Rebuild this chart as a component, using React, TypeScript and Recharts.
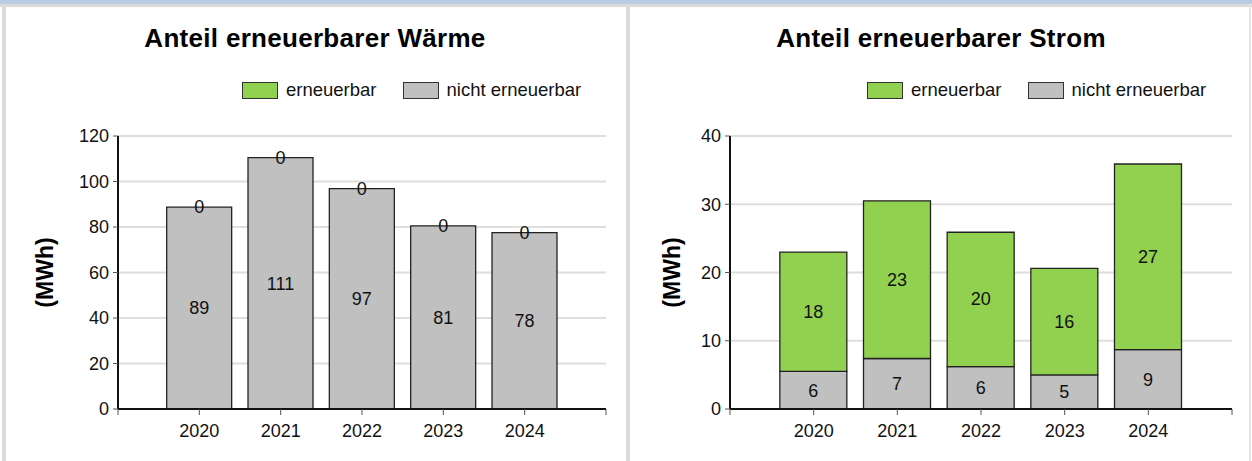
import { Bar, BarChart, CartesianGrid, LabelList, XAxis, YAxis } from "recharts"

const years = ["2020", "2021", "2022", "2023", "2024"]

const waermeErneuerbar = [0, 0, 0, 0, 0]
const waermeNichtErneuerbar = [88.7, 110.5, 96.9, 80.5, 77.5]
const waermeTicks = [0, 20, 40, 60, 80, 100, 120]

const stromErneuerbar = [17.5, 23.1, 19.7, 15.6, 27.2]
const stromNichtErneuerbar = [5.5, 7.4, 6.2, 5.0, 8.7]
const stromTicks = [0, 10, 20, 30, 40]

const GREEN = "#92d050"
const GREY = "#c0c0c0"
const FONT = "'Liberation Sans', Arial, sans-serif"
const TEXT_SIZE = 18

type PanelProps = {
  left: number
  title: string
  erneuerbar: number[]
  nichtErneuerbar: number[]
  yTicks: number[]
  yAxisWidth: number
  labelOffset: number
  barSize: number
  legendLeft: number
}

function LegendBox({ left }: { left: number }) {
  const items = [
    { label: "erneuerbar", color: GREEN },
    { label: "nicht erneuerbar", color: GREY },
  ]
  return (
    <div
      style={{
        position: "absolute",
        left,
        top: 79,
        display: "flex",
        alignItems: "center",
        fontFamily: FONT,
        fontSize: 18.5,
        color: "#111",
      }}
    >
      {items.map((item) => (
        <div
          key={item.label}
          style={{ display: "flex", alignItems: "center", marginRight: 26 }}
        >
          <span
            style={{
              display: "inline-block",
              width: 34,
              height: 15,
              background: item.color,
              border: "1px solid #333",
              marginRight: 8,
            }}
          />
          <span>{item.label}</span>
        </div>
      ))}
    </div>
  )
}

// label of the upper (green) segment, drawn from the lower bar so zero values still show
function UpperLabel(props: any) {
  const { x, y, width, height, index, upper, lower } = props
  const up = upper[index]
  const low = lower[index]
  const pxPerUnit = low > 0 ? Number(height) / low : 0
  const cy = Number(y) - (up * pxPerUnit) / 2
  return (
    <text
      x={Number(x) + Number(width) / 2}
      y={cy}
      textAnchor="middle"
      dominantBaseline="central"
      fill="#111"
      fontSize={TEXT_SIZE}
      fontFamily={FONT}
    >
      {Math.round(up)}
    </text>
  )
}

function Panel({
  left,
  title,
  erneuerbar,
  nichtErneuerbar,
  yTicks,
  yAxisWidth,
  labelOffset,
  barSize,
  legendLeft,
}: PanelProps) {
  const data = years.map((year, i) => ({
    pos: i + 1,
    year,
    erneuerbar: erneuerbar[i],
    nicht: nichtErneuerbar[i],
  }))
  const yMax = yTicks[yTicks.length - 1]
  const tickStyle = { fill: "#111", fontSize: TEXT_SIZE, fontFamily: FONT }

  return (
    <div style={{ position: "absolute", left, top: 0, width: 626, height: 461 }}>
      <div
        style={{
          position: "absolute",
          left: 2,
          top: 23,
          width: 626,
          textAlign: "center",
          fontFamily: FONT,
          fontWeight: "bold",
          fontSize: 26,
          letterSpacing: 0.3,
          color: "#000",
        }}
      >
        {title}
      </div>
      <LegendBox left={legendLeft} />
      <BarChart
        width={626}
        height={461}
        data={data}
        margin={{ top: 136, right: 20, bottom: 22, left: 0 }}
        style={{ position: "absolute", left: 0, top: 0 }}
      >
        <CartesianGrid vertical={false} stroke="#dedede" strokeWidth={2} />
        <XAxis
          type="number"
          dataKey="pos"
          domain={[0, 6]}
          ticks={[0, 1, 2, 3, 4, 5, 6]}
          tickFormatter={(v: number) => years[v - 1] ?? ""}
          height={30}
          tickSize={6}
          tickMargin={9}
          axisLine={{ stroke: "#111", strokeWidth: 2 }}
          tickLine={{ stroke: "#555" }}
          tick={tickStyle}
        />
        <YAxis
          type="number"
          domain={[0, yMax]}
          ticks={yTicks}
          width={yAxisWidth}
          tickSize={5}
          tickMargin={4}
          axisLine={{ stroke: "#111", strokeWidth: 2 }}
          tickLine={{ stroke: "#555" }}
          tick={tickStyle}
          label={{
            value: "(MWh)",
            angle: -90,
            position: "insideLeft",
            offset: labelOffset,
            style: {
              textAnchor: "middle",
              fontWeight: "bold",
              fontSize: 23,
              fontFamily: FONT,
              fill: "#000",
            },
          }}
        />
        <Bar
          dataKey="nicht"
          stackId="a"
          fill={GREY}
          stroke="#222"
          strokeWidth={1.3}
          barSize={barSize}
          isAnimationActive={false}
        >
          <LabelList
            dataKey="nicht"
            position="center"
            formatter={(v: number) => Math.round(v)}
            style={tickStyle}
          />
          <LabelList
            dataKey="erneuerbar"
            content={(p: any) => (
              <UpperLabel {...p} upper={erneuerbar} lower={nichtErneuerbar} />
            )}
          />
        </Bar>
        <Bar
          dataKey="erneuerbar"
          stackId="a"
          fill={GREEN}
          stroke="#222"
          strokeWidth={1.3}
          barSize={barSize}
          isAnimationActive={false}
        />
      </BarChart>
    </div>
  )
}

export default function App() {
  return (
    <div
      style={{
        position: "absolute",
        left: 0,
        top: 0,
        width: 1252,
        height: 461,
        background: "#fff",
        overflow: "hidden",
      }}
    >
      <div style={{ position: "absolute", left: 0, top: 0, width: 1252, height: 4, background: "#b8cce4" }} />
      <div style={{ position: "absolute", left: 0, top: 4, width: 1252, height: 3, background: "#dadada" }} />
      <div style={{ position: "absolute", left: 2, top: 4, width: 4, height: 457, background: "#dadada" }} />
      <div style={{ position: "absolute", left: 626, top: 4, width: 4, height: 457, background: "#dadada" }} />
      <div style={{ position: "absolute", left: 1249, top: 4, width: 2, height: 457, background: "#e4e4e4" }} />
      <Panel
        left={0}
        title="Anteil erneuerbarer Wärme"
        erneuerbar={waermeErneuerbar}
        nichtErneuerbar={waermeNichtErneuerbar}
        yTicks={waermeTicks}
        yAxisWidth={118}
        labelOffset={45}
        barSize={65}
        legendLeft={242}
      />
      <Panel
        left={626}
        title="Anteil erneuerbarer Strom"
        erneuerbar={stromErneuerbar}
        nichtErneuerbar={stromNichtErneuerbar}
        yTicks={stromTicks}
        yAxisWidth={104}
        labelOffset={46}
        barSize={67}
        legendLeft={241}
      />
    </div>
  )
}
